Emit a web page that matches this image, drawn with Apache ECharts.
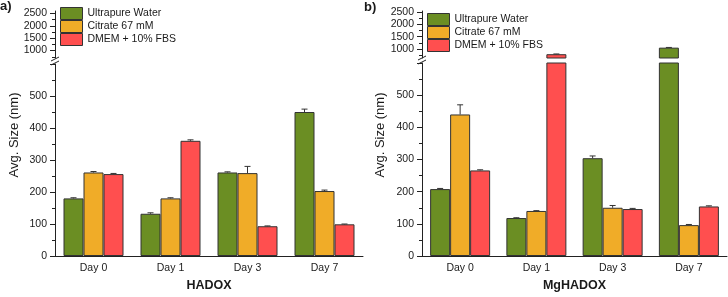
<!DOCTYPE html>
<html>
<head>
<meta charset="utf-8">
<script src="https://cdn.jsdelivr.net/npm/echarts@6/dist/echarts.min.js"></script>
<style>
html, body { margin: 0; padding: 0; background: #fff; }
#main { width: 728px; height: 297px; }
</style>
</head>
<body>
<div id="main"></div>
<script>
var days = ['Day 0', 'Day 1', 'Day 3', 'Day 7'];
var seriesNames = ['Ultrapure Water', 'Citrate 67 mM', 'DMEM + 10% FBS'];
var colors = ['#6b8e23', '#f0ac28', '#ff4f4f'];

// HADOX (panel a)
var hadoxWater = [180, 132, 261, 450];
var hadoxWaterErr = [2, 3, 2, 9];
var hadoxCitrate = [261, 180, 259, 203];
var hadoxCitrateErr = [3, 2, 21, 3];
var hadoxDmem = [256, 360, 93, 99];
var hadoxDmemErr = [2, 3, 1, 1];

// MgHADOX (panel b)
var mgWater = [208, 118, 304, 1053];
var mgWaterErr = [2, 1, 7, 8];
var mgCitrate = [440, 140, 150, 96];
var mgCitrateErr = [30, 1, 7, 2];
var mgDmem = [266, 785, 146, 154];
var mgDmemErr = [2, 10, 2, 2];

var breakAt = 600;
var upperTicks = [1000, 1500, 2000, 2500];
var upperMinor = [750, 1250, 1750, 2250];

var myChart = echarts.init(document.getElementById('main'));

var txt = '#1a1a1a';
var axisColor = '#222';

function upperData(arr) {
	return arr.map(function (v) { return v > breakAt ? v : '-'; });
}

function errData(vals, errs, upper) {
	var out = [];
	for (var i = 0; i < vals.length; i++) {
		if ((vals[i] > breakAt) === upper) out.push([i, vals[i], errs[i]]);
	}
	return out;
}

// error bar drawn only above the bar, like the original
function makeErr(off) {
	return function (params, api) {
		var i = api.value(0), v = api.value(1), e = api.value(2);
		var p0 = api.coord([i, v]);
		var p1 = api.coord([i, v + e]);
		var x = p0[0] + off;
		return {
			type: 'group',
			children: [
				{ type: 'line', shape: { x1: x, y1: p0[1], x2: x, y2: p1[1] }, style: { stroke: '#333', lineWidth: 1 } },
				{ type: 'line', shape: { x1: x - 3, y1: p1[1], x2: x + 3, y2: p1[1] }, style: { stroke: '#333', lineWidth: 1 } }
			]
		};
	};
}

function barSeries(name, data, color, axisIdx) {
	return {
		name: name,
		type: 'bar',
		xAxisIndex: axisIdx,
		yAxisIndex: axisIdx,
		data: data,
		barWidth: 20,
		barGap: '0%',
		itemStyle: { color: color, borderColor: '#333', borderWidth: 1 },
		emphasis: { disabled: true }
	};
}

function errSeries(data, off, axisIdx) {
	return {
		type: 'custom',
		xAxisIndex: axisIdx,
		yAxisIndex: axisIdx,
		data: data,
		encode: { x: 0, y: 1 },
		renderItem: makeErr(off),
		z: 3
	};
}

function panel(vals, errs, upIdx, lowIdx) {
	var s = [];
	var offs = [-20, 0, 20];
	for (var k = 0; k < 3; k++) {
		s.push(barSeries(seriesNames[k], vals[k], colors[k], lowIdx));
		s.push(barSeries(seriesNames[k], upperData(vals[k]), colors[k], upIdx));
	}
	for (var k = 0; k < 3; k++) {
		s.push(errSeries(errData(vals[k], errs[k], false), offs[k], lowIdx));
		s.push(errSeries(errData(vals[k], errs[k], true), offs[k], upIdx));
	}
	return s;
}

function upperX(g) {
	return { type: 'category', gridIndex: g, data: days, show: false };
}

function lowerX(g, name) {
	return {
		type: 'category', gridIndex: g, data: days,
		name: name, nameLocation: 'middle', nameGap: 23,
		nameTextStyle: { fontSize: 12.5, fontWeight: 'bold', color: txt },
		axisLine: { lineStyle: { color: axisColor, width: 1 } },
		axisTick: { alignWithLabel: true, length: 4, lineStyle: { color: axisColor } },
		axisLabel: { fontSize: 10.5, color: txt, margin: 7 }
	};
}

function upperY(g, min, max) {
	return {
		type: 'value', gridIndex: g, min: min, max: max, position: 'left',
		splitLine: { show: false },
		axisLine: { show: true, lineStyle: { color: axisColor, width: 1 } },
		axisTick: { show: true, length: 5, customValues: upperTicks, lineStyle: { color: axisColor } },
		axisLabel: {
			fontSize: 10.5, color: txt, margin: 8, customValues: upperTicks,
			formatter: function (v) { return String(v); }
		}
	};
}

function minorY(g, min, max) {
	return {
		type: 'value', gridIndex: g, min: min, max: max, position: 'left',
		splitLine: { show: false },
		axisLine: { show: false },
		axisTick: { show: true, length: 3, customValues: upperMinor, lineStyle: { color: axisColor } },
		axisLabel: { show: false }
	};
}

function lowerY(g) {
	return {
		type: 'value', gridIndex: g, min: 0, max: breakAt, interval: 100,
		splitLine: { show: false },
		axisLine: { show: true, lineStyle: { color: axisColor, width: 1 } },
		axisTick: { show: true, length: 5, lineStyle: { color: axisColor } },
		minorTick: { show: true, splitNumber: 2, length: 3, lineStyle: { color: axisColor } },
		axisLabel: {
			fontSize: 10.5, color: txt, margin: 8,
			formatter: function (v) { return v >= breakAt ? '' : String(v); }
		}
	};
}

function breakMarks(x, y) {
	return [
		{ type: 'line', shape: { x1: x - 4, y1: y + 2, x2: x + 4, y2: y - 2 }, style: { stroke: axisColor, lineWidth: 1 } },
		{ type: 'line', shape: { x1: x - 4, y1: y + 6, x2: x + 4, y2: y + 2 }, style: { stroke: axisColor, lineWidth: 1 } }
	];
}

var legendBase = {
	orient: 'vertical', data: seriesNames, padding: 0,
	itemWidth: 22, itemHeight: 12, itemGap: 0,
	icon: 'rect', selectedMode: false,
	itemStyle: { borderColor: '#333', borderWidth: 1 },
	textStyle: { fontSize: 10.5, color: txt, lineHeight: 12.5 }
};

var series = []
	.concat(panel([hadoxWater, hadoxCitrate, hadoxDmem], [hadoxWaterErr, hadoxCitrateErr, hadoxDmemErr], 0, 1))
	.concat(panel([mgWater, mgCitrate, mgDmem], [mgWaterErr, mgCitrateErr, mgDmemErr], 2, 3));

var option = {
	animation: false,
	textStyle: { fontFamily: 'Liberation Sans, Arial, sans-serif' },
	grid: [
		{ left: 55, top: 11, width: 308, height: 47 },
		{ left: 55, top: 64, width: 308, height: 195 },
		{ left: 422, top: 11, width: 305, height: 47 },
		{ left: 422, top: 63, width: 305, height: 194 }
	],
	legend: [
		echarts.util.merge({ left: 60, top: 7 }, legendBase),
		echarts.util.merge({ left: 427, top: 13 }, legendBase)
	],
	xAxis: [upperX(0), lowerX(1, 'HADOX'), upperX(2), lowerX(3, 'MgHADOX'), upperX(0), upperX(2)],
	yAxis: [upperY(0, 700, 2600), lowerY(1), upperY(2, 630, 2550), lowerY(3), minorY(0, 700, 2600), minorY(2, 630, 2550)],
	series: series,
	graphic: [
		{ type: 'text', left: 0, top: 0, style: { text: 'a)', font: 'bold 13px Liberation Sans, Arial', fill: txt } },
		{ type: 'text', left: 364, top: 1, style: { text: 'b)', font: 'bold 13px Liberation Sans, Arial', fill: txt } },
		{ type: 'text', x: 14, y: 135, rotation: Math.PI / 2, style: { text: 'Avg. Size (nm)', font: '13px Liberation Sans, Arial', fill: txt, align: 'center', verticalAlign: 'middle' } },
		{ type: 'text', x: 380, y: 135, rotation: Math.PI / 2, style: { text: 'Avg. Size (nm)', font: '13px Liberation Sans, Arial', fill: txt, align: 'center', verticalAlign: 'middle' } }
	].concat(breakMarks(55, 59)).concat(breakMarks(422, 58))
};

myChart.setOption(option);
</script>
</body>
</html>
